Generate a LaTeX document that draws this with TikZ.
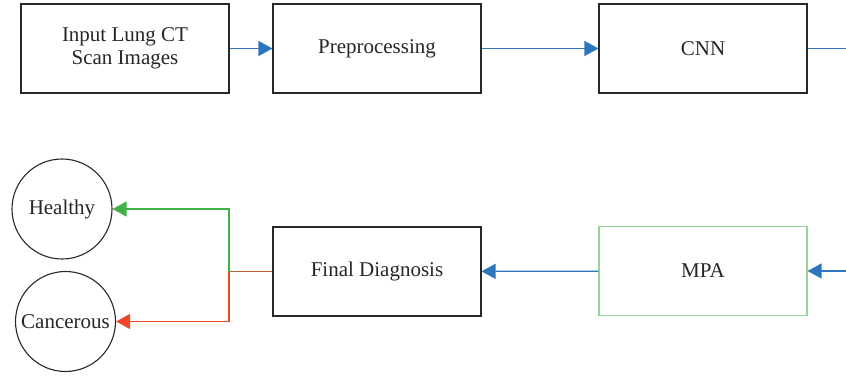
\documentclass[tikz,border=0pt]{standalone}
\usepackage{fontspec}
\setmainfont{Liberation Serif}
\usetikzlibrary{arrows.meta}
\definecolor{arrblue}{RGB}{46,117,190}
\definecolor{hgreen}{RGB}{64,176,72}
\definecolor{boxgreen}{RGB}{150,212,150}
\definecolor{cred}{RGB}{238,72,40}
\definecolor{cbrown}{RGB}{190,96,50}
\definecolor{boxgray}{RGB}{40,40,40}
\tikzset{
  procbox/.style={draw=boxgray, line width=1.1pt, minimum width=208pt, minimum height=89pt, inner sep=0pt, align=center, font=\fontsize{21}{23}\selectfont, text=black!85},
  classnode/.style={draw=boxgray, line width=1.1pt, circle, minimum size=100pt, inner sep=0pt, font=\fontsize{21}{23}\selectfont, text=black!85},
  tip/.style={-{Triangle[length=14pt,width=15pt]}},
  flow/.style={draw=arrblue, line width=1.2pt, tip},
}
\begin{document}
\begin{tikzpicture}[x=1pt,y=-1pt]
\useasboundingbox (0,0) rectangle (846,377);
\node[procbox] (input) at (125,48.5) {Input Lung CT\\Scan Images};
\node[procbox] (pre) at (377,48.5) {Preprocessing};
\node[procbox] (cnn) at (703,48.5) {CNN};
\node[procbox] (final) at (377,271.5) {Final Diagnosis};
\node[procbox, draw=boxgreen] (mpa) at (703,271) {MPA};
\node[classnode] (healthy) at (62,209) {Healthy};
\node[classnode] (cancer) at (65.5,321.5) {Cancerous};
\coordinate (cnnout) at (846,48.5);
\coordinate (mpain) at (846,271);
\coordinate (split) at (229,271.5);
\draw[flow] (input) -- (pre);
\draw[flow] (pre) -- (cnn);
\draw[draw=arrblue, line width=1.2pt] (cnn.east) -- (cnnout);
\draw[flow] (mpain) -- (mpa.east);
\draw[flow] (mpa) -- (final);
\draw[draw=cbrown, line width=1.2pt] (final.west) -- (split);
\draw[draw=hgreen, line width=1.2pt, tip] (split) |- (healthy.east);
\draw[draw=cred, line width=1.2pt, tip] (split) |- (cancer.east);
\end{tikzpicture}
\end{document}
